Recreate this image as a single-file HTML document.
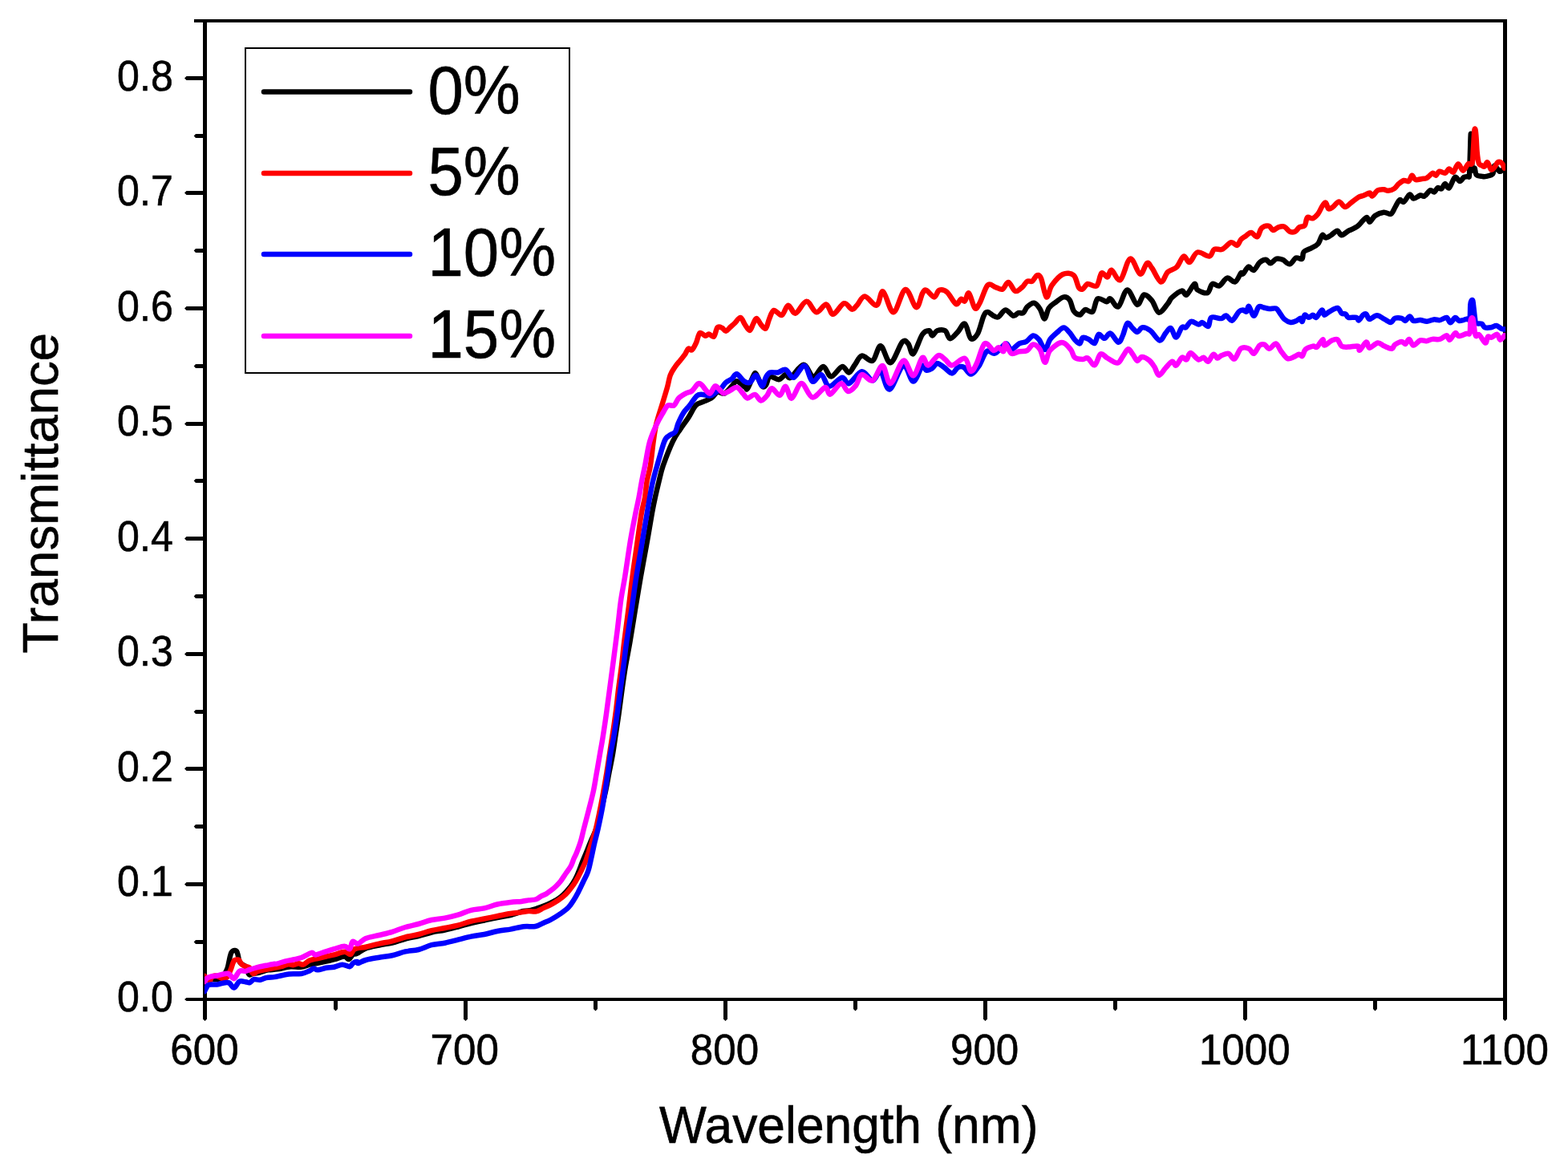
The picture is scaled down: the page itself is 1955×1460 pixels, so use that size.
<!DOCTYPE html>
<html><head><meta charset="utf-8"><title>Transmittance</title>
<style>html,body{margin:0;padding:0;background:#fff;width:1955px;height:1460px;overflow:hidden}svg{display:block}</style>
</head><body>
<svg width="1955" height="1460" viewBox="0 0 1955 1460">
<defs><clipPath id="c"><rect x="255" y="26" width="1622" height="1220"/></clipPath></defs>
<rect width="1955" height="1460" fill="#fff"/>
<rect x="242" y="24" width="1637" height="4" fill="#000"/>
<rect x="253" y="1244" width="1626" height="4" fill="#000"/>
<rect x="253" y="24" width="5" height="1224" fill="#000"/>
<rect x="1874" y="24" width="5" height="1224" fill="#000"/>
<polygon points="253,1244 232.5,1244 230,1246.0 232.5,1248 253,1248" fill="#000"/>
<polygon points="253,1100 232.5,1100 230,1102.5 232.5,1105 253,1105" fill="#000"/>
<polygon points="253,956 232.5,956 230,958.5 232.5,961 253,961" fill="#000"/>
<polygon points="253,813 232.5,813 230,815.5 232.5,818 253,818" fill="#000"/>
<polygon points="253,669 232.5,669 230,671.5 232.5,674 253,674" fill="#000"/>
<polygon points="253,526 232.5,526 230,528.5 232.5,531 253,531" fill="#000"/>
<polygon points="253,382 232.5,382 230,384.5 232.5,387 253,387" fill="#000"/>
<polygon points="253,238 232.5,238 230,240.5 232.5,243 253,243" fill="#000"/>
<polygon points="253,95 232.5,95 230,97.5 232.5,100 253,100" fill="#000"/>
<polygon points="253,1172 244,1172 241.7,1174.5 244,1177 253,1177" fill="#000"/>
<polygon points="253,1028 244,1028 241.7,1030.5 244,1033 253,1033" fill="#000"/>
<polygon points="253,885 244,885 241.7,887.5 244,890 253,890" fill="#000"/>
<polygon points="253,741 244,741 241.7,743.5 244,746 253,746" fill="#000"/>
<polygon points="253,597 244,597 241.7,599.5 244,602 253,602" fill="#000"/>
<polygon points="253,454 244,454 241.7,456.5 244,459 253,459" fill="#000"/>
<polygon points="253,310 244,310 241.7,312.5 244,315 253,315" fill="#000"/>
<polygon points="253,167 244,167 241.7,169.5 244,172 253,172" fill="#000"/>
<polygon points="253,1248 253,1270.5 255.5,1273 258,1270.5 258,1248" fill="#000"/>
<polygon points="578,1248 578,1270.5 580.5,1273 583,1270.5 583,1248" fill="#000"/>
<polygon points="902,1248 902,1270.5 904.5,1273 907,1270.5 907,1248" fill="#000"/>
<polygon points="1226,1248 1226,1270.5 1228.5,1273 1231,1270.5 1231,1248" fill="#000"/>
<polygon points="1550,1248 1550,1270.5 1552.5,1273 1555,1270.5 1555,1248" fill="#000"/>
<polygon points="1874,1248 1874,1270.5 1876.5,1273 1879,1270.5 1879,1248" fill="#000"/>
<polygon points="416,1248 416,1258 418.5,1260.5 421,1258 421,1248" fill="#000"/>
<polygon points="740,1248 740,1258 742.5,1260.5 745,1258 745,1248" fill="#000"/>
<polygon points="1064,1248 1064,1258 1066.5,1260.5 1069,1258 1069,1248" fill="#000"/>
<polygon points="1388,1248 1388,1258 1390.5,1260.5 1393,1258 1393,1248" fill="#000"/>
<polygon points="1712,1248 1712,1258 1714.5,1260.5 1717,1258 1717,1248" fill="#000"/>
<rect x="306" y="60" width="404" height="405" fill="none" stroke="#000" stroke-width="2"/>
<line x1="329" y1="114.5" x2="511" y2="114.5" stroke="#000" stroke-width="6.5" stroke-linecap="round"/>
<line x1="329" y1="216" x2="511" y2="216" stroke="#f00" stroke-width="6.5" stroke-linecap="round"/>
<line x1="329" y1="317" x2="511" y2="317" stroke="#00f" stroke-width="6.5" stroke-linecap="round"/>
<line x1="329" y1="419" x2="511" y2="419" stroke="#f0f" stroke-width="6.5" stroke-linecap="round"/>
<g clip-path="url(#c)">
<path d="M255.0,1219.0 C255.8,1219.1 258.3,1219.2 260.0,1219.5 C261.7,1219.8 263.3,1220.2 265.0,1220.5 C266.7,1220.8 268.3,1221.1 270.0,1221.0 C271.7,1220.9 273.5,1220.8 275.0,1220.0 C276.5,1219.2 277.8,1217.5 279.0,1216.0 C280.2,1214.5 281.2,1212.7 282.0,1211.0 C282.8,1209.3 283.4,1208.0 284.0,1206.0 C284.6,1204.0 285.0,1201.3 285.5,1199.0 C286.0,1196.7 286.5,1193.9 287.0,1192.0 C287.5,1190.1 287.9,1188.6 288.5,1187.5 C289.1,1186.4 289.8,1185.9 290.5,1185.5 C291.2,1185.1 292.2,1184.9 293.0,1185.0 C293.8,1185.1 294.4,1185.2 295.0,1186.0 C295.6,1186.8 296.1,1188.5 296.5,1190.0 C296.9,1191.5 297.1,1193.4 297.5,1195.0 C297.9,1196.6 298.2,1198.2 299.0,1199.5 C299.8,1200.8 300.8,1201.6 302.0,1202.5 C303.2,1203.4 304.8,1203.4 306.0,1205.0 C307.2,1206.6 308.2,1210.2 309.0,1212.0 C309.8,1213.8 310.0,1215.2 311.0,1215.5 C312.0,1215.8 312.9,1214.5 315.0,1214.0 C317.1,1213.5 320.5,1213.3 323.7,1212.5 C326.9,1211.7 330.7,1210.1 334.4,1209.4 C338.1,1208.7 341.0,1209.1 345.7,1208.4 C350.4,1207.7 357.6,1205.6 362.4,1205.2 C367.2,1204.8 370.8,1206.2 374.7,1205.8 C378.6,1205.4 382.8,1203.5 385.9,1202.7 C389.0,1201.9 390.2,1201.9 393.6,1201.2 C397.0,1200.5 402.1,1199.5 406.4,1198.6 C410.7,1197.6 415.4,1196.5 419.2,1195.5 C423.0,1194.5 426.8,1192.4 429.4,1192.5 C432.0,1192.6 433.2,1196.4 435.0,1196.0 C436.8,1195.6 438.3,1191.2 440.0,1190.0 C441.7,1188.8 442.3,1190.2 445.0,1188.9 C447.7,1187.7 451.4,1184.2 456.0,1182.5 C460.6,1180.8 467.2,1179.7 472.7,1178.5 C478.2,1177.3 483.5,1176.8 489.0,1175.5 C494.5,1174.2 500.0,1171.9 505.5,1170.5 C511.0,1169.1 516.4,1168.3 521.8,1167.0 C527.2,1165.7 532.5,1163.8 538.0,1162.5 C543.5,1161.2 549.1,1160.7 554.6,1159.5 C560.1,1158.3 565.5,1156.9 571.0,1155.5 C576.5,1154.1 581.8,1152.3 587.3,1151.0 C592.8,1149.7 598.2,1148.7 603.7,1147.5 C609.2,1146.3 614.5,1145.1 620.0,1144.0 C625.5,1142.9 630.9,1142.3 636.4,1141.0 C641.9,1139.7 648.5,1137.0 652.8,1136.0 C657.1,1135.0 658.4,1135.8 662.0,1135.0 C665.6,1134.2 670.5,1132.5 674.7,1130.9 C678.9,1129.4 682.9,1127.8 687.0,1125.7 C691.1,1123.6 695.2,1121.8 699.3,1118.3 C703.4,1114.8 708.6,1108.9 711.7,1105.0 C714.8,1101.1 716.2,1098.0 717.8,1095.0 C719.4,1092.0 720.1,1090.1 721.5,1086.8 C722.9,1083.5 724.4,1079.0 726.0,1075.0 C727.6,1071.0 729.2,1067.5 731.0,1063.0 C732.8,1058.5 734.9,1053.0 737.0,1048.0 C739.1,1043.0 741.4,1039.3 743.5,1033.0 C745.6,1026.7 747.6,1017.7 749.5,1010.0 C751.4,1002.3 753.3,994.4 755.0,986.6 C756.7,978.8 758.0,970.8 759.5,963.0 C761.0,955.2 762.8,947.2 764.0,940.0 C765.2,932.8 765.8,928.3 767.0,920.0 C768.2,911.7 770.1,900.0 771.5,890.0 C772.9,880.0 774.1,870.0 775.5,860.0 C776.9,850.0 778.3,840.0 780.0,830.0 C781.7,820.0 783.5,811.7 785.5,800.0 C787.5,788.3 789.8,773.3 792.0,760.0 C794.2,746.7 796.4,733.3 798.7,720.0 C801.0,706.7 803.6,693.3 806.0,680.0 C808.4,666.7 811.1,650.0 812.9,640.0 C814.7,630.0 815.4,626.7 816.9,620.0 C818.4,613.3 820.0,606.5 821.6,600.0 C823.2,593.5 823.9,589.0 826.7,580.8 C829.6,572.6 835.2,558.2 838.7,550.7 C842.2,543.2 844.5,540.6 847.8,535.6 C851.1,530.6 855.0,525.6 858.3,520.6 C861.6,515.6 864.4,508.8 867.4,505.5 C870.4,502.2 873.1,502.5 876.4,501.0 C879.6,499.5 883.9,498.4 886.9,496.4 C889.9,494.4 891.7,489.9 894.5,488.9 C897.3,487.9 900.5,491.6 903.5,490.4 C906.5,489.1 910.0,483.9 912.5,481.4 C915.0,478.9 915.8,475.1 918.6,475.3 C921.4,475.6 926.9,481.4 929.1,482.9 C931.4,484.4 930.3,486.9 932.1,484.4 C933.9,481.9 937.9,470.8 939.7,467.8 C941.5,464.8 941.0,464.0 942.7,466.3 C944.5,468.6 948.2,479.1 950.2,481.4 C952.2,483.7 953.4,482.0 955.0,480.0 C956.6,478.0 957.2,470.6 959.9,469.5 C962.6,468.4 967.7,473.6 971.0,473.2 C974.3,472.8 977.1,467.4 979.6,467.0 C982.1,466.6 982.1,472.8 985.8,470.7 C989.5,468.6 997.1,454.9 1001.8,454.7 C1006.5,454.5 1010.0,469.1 1014.1,469.5 C1018.2,469.9 1022.7,457.1 1026.4,457.1 C1030.1,457.1 1032.4,469.5 1036.3,469.5 C1040.2,469.5 1046.2,457.9 1049.9,457.1 C1053.6,456.3 1055.8,464.9 1058.5,464.5 C1061.2,464.1 1063.2,458.2 1065.9,454.7 C1068.6,451.2 1070.8,444.4 1074.5,443.6 C1078.2,442.8 1084.2,451.8 1088.1,449.7 C1092.0,447.6 1094.3,430.8 1098.0,431.2 C1101.7,431.6 1105.8,453.0 1110.3,452.2 C1114.8,451.4 1121.4,430.2 1125.1,426.3 C1128.8,422.4 1130.2,426.3 1132.5,428.8 C1134.8,431.3 1135.8,443.1 1138.7,441.1 C1141.6,439.1 1146.7,421.8 1150.0,417.0 C1153.3,412.2 1156.5,412.1 1158.6,412.3 C1160.6,412.6 1160.6,418.5 1162.3,418.5 C1164.0,418.5 1165.8,413.3 1168.5,412.3 C1171.2,411.3 1175.7,410.7 1178.4,412.3 C1181.1,413.9 1181.8,422.0 1184.5,422.2 C1187.2,422.4 1191.3,416.7 1194.4,413.6 C1197.5,410.5 1200.3,402.3 1203.0,403.7 C1205.7,405.1 1207.7,420.1 1210.4,422.2 C1213.1,424.2 1216.3,420.7 1219.0,416.0 C1221.7,411.3 1224.4,398.3 1226.5,393.8 C1228.6,389.3 1229.4,388.9 1231.4,388.9 C1233.5,388.9 1236.5,392.8 1238.8,393.8 C1241.0,394.8 1242.4,396.3 1244.9,395.1 C1247.4,393.9 1250.5,386.6 1253.6,386.4 C1256.7,386.2 1260.7,393.2 1263.4,393.8 C1266.1,394.4 1267.5,390.7 1269.6,390.1 C1271.7,389.5 1273.9,391.3 1275.8,390.1 C1277.7,388.9 1278.5,384.8 1280.7,382.7 C1283.0,380.6 1286.6,377.4 1289.3,377.8 C1292.0,378.2 1294.5,381.9 1296.7,385.2 C1298.9,388.5 1300.5,397.7 1302.3,397.5 C1304.1,397.3 1305.4,387.5 1307.8,384.0 C1310.2,380.5 1313.4,378.9 1316.5,376.6 C1319.6,374.3 1323.4,370.8 1326.3,370.4 C1329.2,370.0 1331.6,371.2 1333.7,374.1 C1335.8,377.0 1336.6,384.6 1338.7,387.7 C1340.8,390.8 1344.2,392.4 1346.1,392.6 C1348.0,392.8 1348.7,390.0 1350.0,388.9 C1351.3,387.8 1351.7,386.1 1353.7,386.0 C1355.8,385.9 1359.8,390.8 1362.3,388.5 C1364.8,386.2 1365.6,374.6 1368.5,372.5 C1371.4,370.4 1376.9,376.2 1379.6,376.2 C1382.3,376.2 1382.0,371.5 1384.5,372.5 C1387.0,373.5 1390.9,384.2 1394.4,382.3 C1397.9,380.4 1401.6,361.8 1405.5,361.4 C1409.4,361.0 1414.3,378.9 1417.8,379.9 C1421.3,380.9 1423.3,368.3 1426.4,367.5 C1429.5,366.7 1433.2,371.2 1436.3,374.9 C1439.4,378.6 1441.6,389.1 1444.9,389.7 C1448.2,390.3 1453.3,381.7 1456.0,378.6 C1458.7,375.5 1458.1,373.9 1461.0,371.2 C1463.9,368.5 1470.2,363.2 1473.3,362.6 C1476.4,362.0 1476.8,368.9 1479.5,367.5 C1482.2,366.1 1487.0,355.0 1489.3,354.0 C1491.5,353.0 1490.3,359.5 1493.0,361.4 C1495.7,363.2 1502.3,366.3 1505.4,365.1 C1508.5,363.9 1509.0,355.4 1511.5,354.0 C1514.0,352.6 1517.1,357.6 1520.2,356.4 C1523.3,355.2 1526.7,347.4 1530.0,346.6 C1533.3,345.8 1537.0,352.5 1539.9,351.5 C1542.8,350.5 1545.6,342.1 1547.3,340.4 C1549.0,338.7 1548.5,342.7 1550.0,341.4 C1551.5,340.1 1554.4,333.3 1556.6,332.6 C1558.8,331.9 1560.8,337.9 1563.2,337.0 C1565.6,336.1 1568.2,329.3 1570.8,327.1 C1573.3,324.9 1576.3,323.6 1578.5,323.8 C1580.7,324.0 1581.8,328.4 1584.0,328.2 C1586.2,328.0 1589.0,323.4 1591.6,322.7 C1594.1,322.0 1596.5,322.7 1599.3,323.8 C1602.0,324.9 1605.3,329.7 1608.1,329.3 C1610.8,328.9 1613.2,322.7 1615.8,321.6 C1618.3,320.5 1621.8,324.0 1623.4,322.7 C1625.0,321.4 1623.8,316.2 1625.6,314.0 C1627.4,311.8 1631.5,311.2 1634.4,309.6 C1637.3,308.0 1640.8,306.8 1643.2,304.1 C1645.6,301.4 1647.0,294.5 1648.6,293.2 C1650.2,291.9 1651.2,296.4 1653.0,296.4 C1654.8,296.4 1657.2,294.6 1659.6,293.2 C1662.0,291.8 1665.1,287.7 1667.3,287.7 C1669.5,287.7 1670.3,293.2 1672.7,293.2 C1675.1,293.2 1678.2,289.5 1681.5,287.7 C1684.8,285.9 1688.8,284.9 1692.5,282.2 C1696.2,279.4 1700.9,272.1 1703.4,271.2 C1706.0,270.3 1706.0,277.1 1707.8,276.7 C1709.6,276.3 1711.5,271.0 1714.4,269.0 C1717.3,267.0 1722.0,265.1 1725.3,264.7 C1728.6,264.3 1731.7,267.9 1734.1,266.8 C1736.5,265.7 1737.8,261.0 1739.6,258.1 C1741.4,255.2 1743.3,250.4 1745.1,249.3 C1746.9,248.2 1748.2,252.8 1750.3,251.7 C1752.4,250.6 1755.5,243.2 1757.5,242.5 C1759.5,241.8 1760.4,247.4 1762.6,247.6 C1764.8,247.8 1768.6,244.0 1770.8,243.5 C1773.0,243.0 1773.9,245.5 1776.0,244.5 C1778.1,243.5 1781.2,238.2 1783.2,237.3 C1785.2,236.5 1786.8,239.9 1788.3,239.4 C1789.8,238.9 1790.9,234.9 1792.4,234.2 C1793.9,233.5 1796.0,236.2 1797.5,235.3 C1799.0,234.5 1800.0,229.3 1801.6,229.1 C1803.1,228.9 1804.7,235.6 1806.8,234.2 C1808.9,232.8 1811.8,222.3 1814.0,220.9 C1816.2,219.5 1818.2,226.0 1820.1,226.0 C1822.0,226.0 1823.6,221.9 1825.3,220.9 C1827.0,219.9 1829.3,220.4 1830.4,219.9 C1831.5,219.4 1831.6,223.0 1832.0,218.0 C1832.4,213.0 1832.7,198.5 1833.0,190.0 C1833.3,181.5 1833.5,168.7 1833.8,167.0 C1834.1,165.3 1834.7,172.7 1835.0,180.0 C1835.3,187.3 1835.0,205.7 1835.6,210.6 C1836.2,215.5 1837.8,208.4 1838.6,209.6 C1839.4,210.8 1839.2,216.1 1840.7,217.8 C1842.2,219.5 1845.9,219.6 1847.9,219.9 C1850.0,220.2 1850.8,220.4 1853.0,219.9 C1855.2,219.4 1859.5,219.0 1861.2,216.8 C1862.9,214.6 1861.9,207.0 1863.3,206.5 C1864.7,206.0 1867.8,212.8 1869.5,213.7 C1871.2,214.5 1872.5,211.9 1873.6,211.6 C1874.7,211.3 1875.6,211.9 1876.0,212.0" fill="none" stroke="#000" stroke-width="6.5" stroke-linejoin="round" stroke-linecap="round"/>
<path d="M255.0,1217.0 C255.5,1217.4 256.9,1218.5 258.0,1219.5 C259.1,1220.5 260.5,1223.2 261.5,1223.0 C262.5,1222.8 262.9,1219.1 264.0,1218.0 C265.1,1216.9 266.7,1216.6 268.0,1216.5 C269.3,1216.4 270.7,1217.0 272.0,1217.5 C273.3,1218.0 274.7,1219.0 276.0,1219.5 C277.3,1220.0 278.8,1220.7 280.0,1220.5 C281.2,1220.3 282.1,1219.6 283.0,1218.5 C283.9,1217.4 284.7,1215.8 285.5,1214.0 C286.3,1212.2 287.2,1210.0 288.0,1208.0 C288.8,1206.0 289.3,1203.8 290.0,1202.0 C290.7,1200.2 291.2,1198.4 292.0,1197.5 C292.8,1196.6 294.0,1196.6 295.0,1196.5 C296.0,1196.4 297.2,1196.3 298.0,1197.0 C298.8,1197.7 299.2,1199.4 300.0,1200.5 C300.8,1201.6 301.8,1202.8 303.0,1203.5 C304.2,1204.2 305.7,1204.5 307.0,1205.0 C308.3,1205.5 309.9,1205.5 311.0,1206.5 C312.1,1207.5 312.7,1209.8 313.5,1211.0 C314.3,1212.2 314.6,1214.0 316.0,1214.0 C317.4,1214.0 319.0,1211.8 321.6,1210.9 C324.2,1210.1 328.4,1209.6 331.8,1208.9 C335.2,1208.2 339.1,1207.4 342.1,1206.8 C345.2,1206.2 347.2,1206.0 350.1,1205.2 C353.0,1204.4 356.7,1202.5 359.3,1202.2 C361.9,1201.9 363.4,1203.4 365.5,1203.2 C367.6,1203.0 370.0,1201.3 372.1,1201.2 C374.2,1201.1 375.9,1203.3 378.2,1202.7 C380.5,1202.1 382.9,1198.9 385.9,1197.6 C388.9,1196.3 392.8,1195.8 396.2,1195.0 C399.6,1194.2 403.0,1193.3 406.4,1192.5 C409.8,1191.7 412.8,1191.4 416.6,1190.4 C420.4,1189.5 426.0,1186.9 429.4,1186.8 C432.8,1186.7 435.0,1190.5 437.1,1189.9 C439.2,1189.3 439.1,1184.7 442.2,1183.2 C445.3,1181.7 450.9,1181.8 456.0,1180.7 C461.1,1179.6 467.2,1177.8 472.7,1176.6 C478.2,1175.4 483.5,1174.7 489.0,1173.3 C494.5,1171.9 500.0,1169.8 505.5,1168.4 C511.0,1167.0 516.4,1166.4 521.8,1165.0 C527.2,1163.6 532.5,1161.5 538.0,1160.2 C543.5,1158.9 549.1,1158.1 554.6,1157.0 C560.1,1155.9 565.5,1155.0 571.0,1153.6 C576.5,1152.2 581.8,1150.0 587.3,1148.7 C592.8,1147.4 598.2,1146.6 603.7,1145.5 C609.2,1144.4 614.5,1143.3 620.0,1142.2 C625.5,1141.1 631.4,1139.8 636.4,1139.0 C641.4,1138.2 646.2,1137.9 650.0,1137.4 C653.8,1136.9 656.1,1136.3 659.2,1136.1 C662.3,1135.9 665.4,1137.1 668.5,1136.4 C671.6,1135.7 674.6,1133.5 677.7,1132.1 C680.8,1130.7 683.9,1129.4 687.0,1127.8 C690.1,1126.2 693.1,1124.4 696.2,1122.3 C699.3,1120.2 702.9,1117.4 705.5,1114.9 C708.1,1112.4 709.7,1110.2 711.7,1107.5 C713.8,1104.8 715.8,1102.2 717.8,1098.8 C719.8,1095.4 722.0,1091.2 724.0,1087.1 C726.0,1082.9 728.5,1077.9 730.1,1073.9 C731.7,1069.9 732.4,1067.3 733.8,1063.0 C735.2,1058.7 737.0,1053.0 738.5,1048.0 C740.0,1043.0 741.4,1039.3 743.0,1033.0 C744.6,1026.7 746.4,1017.7 748.0,1010.0 C749.6,1002.3 751.0,994.4 752.4,986.6 C753.8,978.8 755.2,970.8 756.5,963.0 C757.8,955.2 758.9,947.2 760.0,940.0 C761.1,932.8 761.9,928.3 763.1,920.0 C764.4,911.7 766.2,900.0 767.5,890.0 C768.8,880.0 769.8,870.0 771.0,860.0 C772.2,850.0 773.8,840.0 775.0,830.0 C776.2,820.0 776.9,811.7 778.3,800.0 C779.7,788.3 781.8,773.3 783.5,760.0 C785.2,746.7 786.6,733.3 788.4,720.0 C790.1,706.7 792.1,693.3 794.0,680.0 C795.9,666.7 798.1,650.0 799.8,640.0 C801.5,630.0 803.0,626.7 804.1,620.0 C805.2,613.3 805.5,606.5 806.6,600.0 C807.7,593.5 809.6,589.0 810.9,580.8 C812.2,572.6 813.4,559.5 814.6,550.7 C815.9,541.9 816.6,535.6 818.4,528.1 C820.2,520.6 822.9,513.0 825.2,505.5 C827.5,498.0 830.2,489.2 832.0,482.9 C833.8,476.6 834.1,472.1 835.7,467.8 C837.3,463.5 839.8,460.3 841.8,457.3 C843.8,454.3 845.8,452.2 847.8,449.7 C849.8,447.2 852.0,444.7 853.8,442.2 C855.5,439.7 856.8,435.7 858.3,434.7 C859.8,433.7 861.2,437.5 862.8,436.2 C864.4,434.9 866.5,430.6 868.1,427.1 C869.7,423.6 870.7,416.5 872.6,415.1 C874.5,413.7 877.5,418.6 879.4,418.8 C881.3,419.1 882.1,416.5 883.9,416.6 C885.7,416.7 888.2,421.0 890.0,419.6 C891.8,418.2 892.8,410.1 894.5,408.3 C896.2,406.5 898.8,408.2 900.5,409.0 C902.2,409.8 903.2,413.1 905.0,412.8 C906.8,412.6 909.2,409.1 911.0,407.5 C912.8,405.9 914.0,404.9 916.0,403.0 C918.0,401.1 921.0,395.7 923.2,396.0 C925.4,396.3 927.1,402.3 929.0,405.0 C930.9,407.7 933.0,412.2 934.7,412.0 C936.4,411.8 937.6,406.5 939.0,404.0 C940.4,401.5 941.6,396.8 943.3,397.0 C945.0,397.2 947.1,402.9 949.0,405.0 C950.9,407.1 953.1,410.7 954.8,409.5 C956.5,408.3 957.3,401.8 959.0,398.0 C960.7,394.2 962.2,387.7 964.8,386.9 C967.4,386.1 971.7,394.0 974.7,393.0 C977.7,392.0 979.8,381.1 982.7,380.7 C985.6,380.3 988.1,391.4 991.9,390.6 C995.7,389.8 1001.2,376.0 1005.5,375.8 C1009.8,375.6 1013.7,388.7 1017.8,389.3 C1021.9,389.9 1026.6,379.1 1030.1,379.5 C1033.6,379.9 1035.1,392.0 1038.8,391.8 C1042.5,391.6 1048.4,379.2 1052.3,378.2 C1056.2,377.2 1059.5,385.2 1062.2,385.6 C1064.9,386.0 1065.7,383.4 1068.4,380.7 C1071.1,378.0 1074.1,369.6 1078.2,369.6 C1082.3,369.6 1089.2,381.7 1093.0,380.7 C1096.8,379.7 1097.5,362.0 1101.0,363.4 C1104.5,364.8 1109.4,389.7 1114.0,389.3 C1118.6,388.9 1124.1,362.0 1128.8,361.0 C1133.5,360.0 1138.9,382.4 1142.4,383.2 C1145.9,384.0 1147.9,369.6 1150.0,366.0 C1152.1,362.4 1152.4,361.1 1154.9,361.8 C1157.4,362.5 1162.1,370.4 1164.8,370.4 C1167.5,370.4 1168.3,362.8 1171.0,361.8 C1173.7,360.8 1177.3,361.4 1180.8,364.3 C1184.3,367.2 1189.0,377.6 1191.9,379.0 C1194.8,380.4 1196.2,373.5 1198.1,372.9 C1199.9,372.3 1201.3,376.6 1203.0,375.4 C1204.7,374.2 1205.9,364.1 1208.0,365.5 C1210.1,366.9 1213.2,381.9 1215.4,384.0 C1217.7,386.1 1218.8,382.5 1221.5,377.8 C1224.2,373.1 1228.1,358.9 1231.4,355.6 C1234.7,352.3 1238.1,357.3 1241.2,358.1 C1244.3,358.9 1247.2,361.6 1249.9,360.6 C1252.6,359.6 1254.6,351.5 1257.3,351.9 C1260.0,352.3 1263.0,362.0 1265.9,363.0 C1268.8,364.0 1272.0,360.2 1274.5,358.1 C1277.0,356.1 1278.6,351.9 1280.7,350.7 C1282.8,349.5 1284.9,351.9 1286.9,350.7 C1289.0,349.5 1291.2,343.9 1293.0,343.3 C1294.8,342.7 1296.0,342.5 1298.0,347.0 C1300.0,351.5 1302.5,369.0 1304.7,370.4 C1307.0,371.8 1308.1,360.3 1311.5,355.6 C1314.9,350.9 1320.6,344.1 1325.1,342.0 C1329.6,339.9 1335.4,340.6 1338.7,343.3 C1342.0,346.0 1342.9,355.2 1344.8,358.1 C1346.7,361.0 1348.1,361.1 1350.0,360.4 C1351.9,359.7 1353.3,354.7 1356.2,354.0 C1359.1,353.3 1364.4,358.7 1367.3,356.4 C1370.2,354.1 1371.2,342.2 1373.4,340.4 C1375.7,338.6 1378.7,346.0 1380.8,345.4 C1382.9,344.8 1383.1,336.1 1385.8,336.7 C1388.5,337.3 1393.0,351.4 1396.9,349.0 C1400.8,346.6 1405.1,323.7 1409.2,322.5 C1413.3,321.3 1418.0,340.8 1421.5,341.7 C1425.0,342.6 1427.6,329.3 1430.1,328.1 C1432.6,326.9 1433.4,330.4 1436.3,334.3 C1439.2,338.2 1444.1,350.7 1447.4,351.5 C1450.7,352.3 1452.7,342.3 1456.0,339.2 C1459.3,336.1 1463.8,336.3 1467.1,333.0 C1470.4,329.7 1473.1,320.5 1475.8,319.5 C1478.5,318.5 1480.3,327.7 1483.2,326.9 C1486.1,326.1 1488.9,315.7 1493.0,314.5 C1497.1,313.3 1504.3,320.1 1507.8,319.5 C1511.3,318.9 1511.3,312.2 1514.0,310.8 C1516.7,309.4 1520.4,312.2 1523.9,310.8 C1527.4,309.4 1531.9,303.0 1535.0,302.2 C1538.1,301.4 1540.4,306.5 1542.4,305.9 C1544.5,305.3 1545.5,300.4 1547.3,298.5 C1549.1,296.6 1551.2,295.6 1553.3,294.2 C1555.4,292.8 1557.5,289.7 1559.9,289.9 C1562.3,290.1 1565.3,296.2 1567.5,295.3 C1569.7,294.4 1570.6,286.7 1573.0,284.4 C1575.4,282.1 1579.4,281.2 1581.8,281.6 C1584.2,282.1 1585.3,286.8 1587.3,287.1 C1589.3,287.4 1591.4,284.0 1593.8,283.3 C1596.2,282.6 1599.1,281.8 1601.5,282.7 C1603.9,283.6 1605.9,287.8 1608.1,288.8 C1610.3,289.8 1612.7,289.7 1614.7,288.8 C1616.7,287.9 1618.1,284.6 1620.1,283.3 C1622.1,282.0 1625.0,283.1 1626.7,281.1 C1628.4,279.1 1628.3,272.7 1630.0,271.2 C1631.7,269.7 1634.4,273.0 1636.6,272.3 C1638.8,271.6 1641.2,269.4 1643.2,266.8 C1645.2,264.2 1647.0,259.4 1648.6,257.0 C1650.2,254.6 1651.7,252.0 1653.0,252.6 C1654.3,253.2 1654.8,259.4 1656.3,260.3 C1657.8,261.2 1659.6,259.6 1661.8,258.1 C1664.0,256.6 1667.0,251.5 1669.5,251.5 C1672.0,251.5 1674.5,257.9 1677.1,258.1 C1679.6,258.3 1682.0,254.6 1684.8,252.6 C1687.5,250.6 1691.0,247.5 1693.6,246.0 C1696.1,244.5 1697.7,244.7 1700.1,243.8 C1702.5,242.9 1706.0,240.4 1707.8,240.5 C1709.6,240.6 1709.4,244.9 1711.1,244.4 C1712.8,243.9 1715.3,238.7 1717.7,237.3 C1720.1,235.9 1723.1,236.1 1725.3,236.2 C1727.5,236.3 1728.6,238.0 1730.8,237.8 C1733.0,237.6 1736.3,236.6 1738.5,235.1 C1740.7,233.6 1742.1,230.8 1744.1,229.1 C1746.1,227.4 1748.2,225.5 1750.3,225.0 C1752.3,224.5 1754.7,227.0 1756.4,226.0 C1758.1,225.0 1759.1,219.1 1760.5,218.8 C1761.9,218.5 1762.6,223.3 1764.7,224.0 C1766.8,224.7 1770.5,223.3 1772.9,223.0 C1775.3,222.7 1776.8,223.1 1779.0,221.9 C1781.2,220.7 1784.3,216.3 1786.2,215.8 C1788.1,215.3 1788.9,219.2 1790.3,218.8 C1791.7,218.5 1792.6,214.2 1794.5,213.7 C1796.4,213.2 1799.5,216.3 1801.6,215.8 C1803.6,215.3 1805.1,210.8 1806.8,210.6 C1808.5,210.4 1810.0,215.7 1811.9,214.7 C1813.8,213.7 1816.0,204.8 1818.1,204.5 C1820.1,204.2 1822.2,212.7 1824.2,212.7 C1826.2,212.7 1828.5,206.1 1830.4,204.5 C1832.3,202.9 1834.4,206.7 1835.5,203.4 C1836.6,200.2 1836.5,191.7 1837.0,185.0 C1837.5,178.3 1837.9,166.8 1838.3,163.0 C1838.7,159.2 1839.2,160.5 1839.6,162.0 C1840.0,163.5 1840.2,167.3 1840.6,172.0 C1840.9,176.7 1841.2,184.8 1841.7,190.0 C1842.2,195.2 1842.8,200.7 1843.8,203.4 C1844.8,206.2 1846.7,205.8 1847.9,206.5 C1849.1,207.2 1849.9,208.2 1851.0,207.5 C1852.1,206.8 1853.2,201.7 1854.6,202.4 C1856.0,203.1 1857.8,210.6 1859.2,211.6 C1860.7,212.6 1861.9,210.1 1863.3,208.6 C1864.7,207.1 1865.9,203.3 1867.4,202.4 C1868.9,201.5 1871.1,202.2 1872.5,203.4 C1873.9,204.6 1875.1,208.6 1875.6,209.6" fill="none" stroke="#f00" stroke-width="6.5" stroke-linejoin="round" stroke-linecap="round"/>
<path d="M255.0,1236.0 C255.4,1235.2 256.8,1232.4 257.7,1231.0 C258.6,1229.6 258.1,1228.4 260.2,1227.8 C262.3,1227.2 267.1,1227.9 270.5,1227.5 C273.9,1227.1 278.1,1225.5 280.7,1225.2 C283.2,1224.9 283.9,1224.5 285.8,1225.5 C287.7,1226.5 289.8,1231.8 291.9,1231.5 C294.0,1231.2 296.2,1224.9 298.6,1223.7 C301.0,1222.5 304.2,1224.0 306.3,1224.2 C308.4,1224.5 309.7,1225.7 311.4,1225.2 C313.1,1224.7 314.4,1221.8 316.5,1221.2 C318.6,1220.6 321.6,1222.1 324.2,1221.7 C326.8,1221.3 328.8,1219.7 331.8,1219.1 C334.8,1218.5 339.1,1218.5 342.1,1218.1 C345.1,1217.7 347.0,1217.1 350.0,1216.5 C353.0,1215.9 356.0,1214.9 360.3,1214.5 C364.6,1214.1 371.4,1214.7 375.7,1214.0 C380.0,1213.3 383.3,1211.5 385.9,1210.4 C388.4,1209.3 389.3,1207.7 391.0,1207.5 C392.7,1207.3 393.6,1209.4 396.2,1209.3 C398.8,1209.2 403.0,1207.4 406.4,1206.8 C409.8,1206.2 413.2,1206.5 416.6,1205.8 C420.0,1205.1 423.6,1202.8 426.8,1202.7 C430.0,1202.6 433.8,1205.5 436.0,1205.2 C438.2,1204.9 438.5,1202.0 440.0,1201.0 C441.5,1200.0 443.9,1199.1 445.0,1199.1 C446.1,1199.1 444.7,1201.3 446.5,1201.0 C448.3,1200.7 451.6,1198.2 456.0,1197.0 C460.4,1195.8 467.2,1194.7 472.7,1193.7 C478.2,1192.8 483.5,1192.5 489.0,1191.3 C494.5,1190.1 500.0,1187.6 505.5,1186.4 C511.0,1185.2 516.4,1185.4 521.8,1184.0 C527.2,1182.6 532.5,1179.6 538.0,1178.2 C543.5,1176.8 549.1,1176.8 554.6,1175.7 C560.1,1174.6 565.5,1173.1 571.0,1171.7 C576.5,1170.3 581.8,1168.7 587.3,1167.6 C592.8,1166.5 598.2,1166.1 603.7,1165.0 C609.2,1163.9 614.5,1162.1 620.0,1161.0 C625.5,1159.9 630.9,1159.5 636.4,1158.6 C641.9,1157.6 647.6,1155.9 652.8,1155.3 C658.0,1154.7 663.5,1155.7 667.5,1155.0 C671.5,1154.3 673.8,1152.4 677.0,1151.0 C680.2,1149.6 683.3,1148.5 687.0,1146.5 C690.7,1144.5 695.7,1141.4 699.3,1138.9 C702.9,1136.4 706.0,1134.1 708.6,1131.5 C711.2,1128.9 712.7,1126.4 714.7,1123.2 C716.8,1120.0 718.8,1116.4 720.9,1112.4 C723.0,1108.5 725.0,1103.9 727.1,1099.5 C729.2,1095.1 731.5,1091.5 733.2,1086.2 C735.0,1081.0 736.2,1074.0 737.6,1068.0 C739.0,1062.0 740.1,1055.8 741.5,1050.0 C742.9,1044.2 744.2,1039.7 745.7,1033.0 C747.2,1026.3 749.0,1017.7 750.5,1010.0 C752.0,1002.3 753.1,994.4 754.4,986.6 C755.6,978.8 756.9,970.8 758.0,963.0 C759.1,955.2 759.9,947.2 761.1,940.0 C762.3,932.8 763.6,928.3 765.0,920.0 C766.4,911.7 768.1,900.0 769.5,890.0 C770.9,880.0 772.2,870.0 773.5,860.0 C774.8,850.0 776.2,840.0 777.5,830.0 C778.8,820.0 779.6,811.7 781.3,800.0 C783.0,788.3 785.5,773.3 787.5,760.0 C789.5,746.7 791.1,733.3 793.2,720.0 C795.3,706.7 797.8,693.3 800.0,680.0 C802.2,666.7 805.0,650.0 806.7,640.0 C808.4,630.0 808.9,626.7 810.1,620.0 C811.3,613.3 812.5,606.5 814.0,600.0 C815.5,593.5 816.8,589.0 819.2,580.8 C821.6,572.6 825.7,557.0 828.2,550.7 C830.7,544.4 831.9,545.2 834.2,543.2 C836.5,541.2 839.9,541.1 841.8,538.6 C843.7,536.1 843.8,532.1 845.5,528.1 C847.2,524.1 849.9,518.3 852.3,514.5 C854.7,510.7 857.0,509.0 859.8,505.5 C862.6,502.0 866.1,495.7 868.9,493.4 C871.7,491.1 873.6,491.9 876.4,491.9 C879.1,491.9 882.6,493.9 885.4,493.4 C888.2,492.9 890.7,490.4 893.0,488.9 C895.3,487.4 897.0,486.4 899.0,484.4 C901.0,482.4 902.8,478.9 905.0,476.9 C907.2,474.9 910.2,474.1 912.5,472.3 C914.8,470.5 916.1,465.8 918.6,466.3 C921.1,466.8 924.9,473.5 927.6,475.3 C930.4,477.1 932.6,478.1 935.1,476.9 C937.6,475.6 940.2,467.1 942.7,467.8 C945.2,468.6 948.2,480.9 950.2,481.4 C952.2,481.9 953.1,473.6 954.7,470.8 C956.3,468.0 957.4,465.6 959.9,464.5 C962.4,463.4 966.4,465.1 969.7,464.5 C973.0,463.9 976.3,459.8 979.6,460.8 C982.9,461.8 985.6,471.5 989.5,470.7 C993.4,469.9 999.1,455.1 1003.0,455.9 C1006.9,456.7 1009.4,473.8 1012.9,475.6 C1016.4,477.5 1020.5,466.0 1024.0,467.0 C1027.5,468.0 1029.5,481.2 1033.8,481.8 C1038.1,482.4 1045.8,471.3 1049.9,470.7 C1054.0,470.1 1054.4,479.3 1058.5,478.1 C1062.6,476.9 1069.6,463.9 1074.5,463.3 C1079.4,462.7 1084.2,474.4 1088.1,474.4 C1092.0,474.4 1094.5,461.4 1098.0,463.3 C1101.5,465.2 1104.4,486.7 1109.1,485.5 C1113.8,484.3 1121.4,457.5 1126.3,455.9 C1131.2,454.2 1134.8,475.6 1138.7,475.6 C1142.7,475.6 1147.3,458.3 1150.0,456.0 C1152.7,453.7 1152.9,461.2 1154.9,461.7 C1157.0,462.2 1160.0,460.6 1162.3,459.2 C1164.6,457.8 1166.0,453.2 1168.5,453.0 C1171.0,452.8 1174.0,455.9 1177.1,458.0 C1180.2,460.1 1184.1,465.4 1187.0,465.4 C1189.9,465.4 1191.9,459.2 1194.4,458.0 C1196.9,456.8 1199.1,456.6 1201.8,458.0 C1204.5,459.4 1207.3,466.8 1210.4,466.6 C1213.5,466.4 1217.0,461.4 1220.3,456.7 C1223.6,452.0 1226.8,440.9 1230.1,438.2 C1233.4,435.5 1236.9,441.5 1240.0,440.7 C1243.1,439.9 1246.1,435.4 1248.6,433.3 C1251.1,431.2 1252.7,428.0 1254.8,428.4 C1256.9,428.8 1258.3,435.8 1261.0,435.8 C1263.7,435.8 1267.7,430.0 1270.8,428.4 C1273.9,426.8 1276.6,427.5 1279.5,425.9 C1282.4,424.2 1285.4,418.9 1288.1,418.5 C1290.8,418.1 1293.0,420.5 1295.5,423.4 C1298.0,426.3 1300.6,435.8 1302.9,435.8 C1305.2,435.8 1306.6,426.9 1309.1,423.4 C1311.6,419.9 1314.8,417.3 1317.7,414.8 C1320.6,412.3 1323.6,408.6 1326.3,408.6 C1329.0,408.6 1331.4,412.3 1333.7,414.8 C1336.0,417.3 1337.8,421.1 1339.9,423.4 C1342.0,425.7 1344.4,428.8 1346.1,428.4 C1347.8,428.0 1348.1,421.9 1350.0,421.0 C1351.9,420.1 1354.9,421.8 1357.4,423.0 C1359.9,424.2 1362.8,429.0 1364.8,428.0 C1366.8,427.0 1367.7,417.9 1369.7,416.9 C1371.8,415.9 1374.6,422.0 1377.1,421.8 C1379.6,421.6 1381.6,414.8 1384.5,415.6 C1387.4,416.4 1391.8,426.3 1394.4,426.7 C1397.0,427.1 1398.2,421.9 1400.0,418.0 C1401.8,414.1 1403.5,404.5 1405.5,403.0 C1407.5,401.5 1409.9,407.2 1412.0,409.0 C1414.1,410.8 1415.9,414.0 1418.0,413.9 C1420.1,413.8 1421.8,408.5 1424.5,408.2 C1427.2,407.9 1430.9,409.6 1434.4,412.3 C1438.0,415.0 1442.7,424.0 1445.8,424.5 C1448.9,425.0 1450.9,418.1 1453.2,415.5 C1455.5,412.9 1457.5,408.2 1459.7,409.0 C1461.9,409.8 1464.0,420.6 1466.3,420.5 C1468.6,420.4 1471.5,410.2 1473.6,408.2 C1475.6,406.1 1476.7,409.4 1478.6,408.2 C1480.5,407.0 1482.5,401.4 1485.1,400.8 C1487.7,400.2 1491.9,404.3 1494.3,404.5 C1496.7,404.7 1497.2,401.7 1499.2,402.1 C1501.2,402.5 1504.8,408.0 1506.6,407.0 C1508.4,406.0 1507.6,397.5 1510.3,395.9 C1513.0,394.2 1519.5,397.5 1522.6,397.1 C1525.7,396.7 1526.5,393.0 1528.8,393.4 C1531.1,393.8 1533.5,400.4 1536.2,399.6 C1538.9,398.8 1542.5,390.7 1544.8,388.5 C1547.1,386.3 1548.5,386.6 1550.0,386.6 C1551.5,386.6 1552.9,389.4 1554.1,388.6 C1555.3,387.8 1555.7,381.1 1557.2,382.0 C1558.7,382.9 1561.3,393.7 1563.3,393.8 C1565.3,393.9 1567.4,384.2 1569.4,382.5 C1571.5,380.8 1573.4,383.1 1575.6,383.5 C1577.8,383.9 1580.2,384.9 1582.7,385.1 C1585.2,385.3 1588.7,383.7 1590.9,384.6 C1593.1,385.5 1594.3,388.5 1596.0,390.7 C1597.7,392.9 1599.0,396.0 1601.2,397.9 C1603.4,399.8 1606.8,401.6 1609.3,401.9 C1611.8,402.2 1614.5,400.8 1616.5,399.9 C1618.5,399.0 1620.4,396.6 1621.6,396.8 C1622.8,397.0 1622.8,401.6 1623.7,400.9 C1624.6,400.2 1625.4,393.5 1626.7,392.7 C1628.0,391.9 1630.1,395.8 1631.8,395.8 C1633.5,395.8 1635.5,392.7 1637.0,392.7 C1638.5,392.7 1639.1,396.8 1641.0,395.8 C1642.9,394.8 1646.5,387.1 1648.2,386.6 C1649.9,386.1 1649.8,392.4 1651.3,392.7 C1652.8,393.0 1654.7,390.1 1657.4,388.6 C1660.1,387.2 1665.0,383.6 1667.6,384.0 C1670.2,384.4 1671.1,389.4 1672.8,390.7 C1674.5,392.0 1676.5,390.8 1677.9,391.7 C1679.3,392.6 1678.8,395.1 1681.0,395.8 C1683.2,396.5 1689.0,395.2 1691.2,395.8 C1693.4,396.4 1692.8,399.9 1694.2,399.4 C1695.6,398.9 1697.9,394.0 1699.4,392.7 C1701.0,391.4 1702.2,390.8 1703.5,391.7 C1704.8,392.6 1705.3,397.6 1707.5,397.9 C1709.7,398.1 1713.7,393.2 1716.8,393.2 C1719.9,393.2 1723.1,396.4 1726.0,397.9 C1728.9,399.3 1731.9,402.1 1734.1,401.9 C1736.3,401.7 1737.0,397.6 1739.3,396.8 C1741.6,396.0 1745.5,396.3 1747.7,396.8 C1749.9,397.3 1750.6,400.3 1752.3,399.9 C1754.0,399.5 1756.0,394.5 1757.7,394.5 C1759.4,394.5 1760.1,399.1 1762.3,399.9 C1764.5,400.7 1767.9,399.0 1770.7,399.1 C1773.5,399.2 1776.3,400.8 1779.1,400.7 C1781.9,400.6 1784.9,398.7 1787.6,398.4 C1790.3,398.1 1792.6,399.5 1795.3,399.1 C1798.0,398.7 1801.5,395.5 1803.7,396.0 C1805.9,396.5 1806.5,402.2 1808.3,402.2 C1810.1,402.2 1812.6,396.4 1814.4,396.0 C1816.2,395.6 1817.3,399.4 1819.0,399.9 C1820.7,400.4 1822.7,399.5 1824.4,399.1 C1826.1,398.7 1827.7,397.8 1829.0,397.6 C1830.3,397.4 1831.8,400.9 1832.5,398.0 C1833.2,395.1 1833.0,383.8 1833.3,380.0 C1833.6,376.2 1834.0,375.8 1834.5,375.0 C1835.0,374.2 1835.8,373.3 1836.3,375.0 C1836.8,376.7 1837.1,381.3 1837.6,385.0 C1838.0,388.7 1838.5,394.0 1839.0,397.0 C1839.5,400.0 1839.1,401.9 1840.5,403.0 C1841.9,404.1 1845.6,402.8 1847.4,403.7 C1849.2,404.6 1849.4,407.5 1851.3,408.3 C1853.2,409.1 1856.6,408.7 1859.0,408.3 C1861.4,407.9 1863.7,405.7 1865.9,406.0 C1868.1,406.3 1870.2,409.1 1872.0,409.9 C1873.8,410.7 1875.8,410.5 1876.6,410.6" fill="none" stroke="#00f" stroke-width="6.5" stroke-linejoin="round" stroke-linecap="round"/>
<path d="M255.0,1224.0 C255.4,1223.3 256.4,1221.2 257.7,1220.1 C259.0,1219.0 260.7,1218.2 262.8,1217.6 C264.9,1217.0 267.5,1217.1 270.5,1216.5 C273.5,1215.9 278.1,1214.3 280.7,1214.0 C283.2,1213.7 283.9,1213.5 285.8,1214.5 C287.7,1215.5 289.8,1220.7 291.9,1220.1 C294.0,1219.5 296.2,1212.4 298.6,1210.9 C301.0,1209.4 304.2,1211.2 306.3,1210.9 C308.4,1210.6 308.8,1209.8 311.4,1208.9 C313.9,1208.1 318.2,1206.7 321.6,1205.8 C325.0,1204.9 328.4,1204.5 331.8,1203.8 C335.2,1203.1 339.9,1202.0 342.1,1201.7 C344.3,1201.4 342.8,1202.2 345.0,1201.7 C347.2,1201.2 351.8,1199.5 355.2,1198.6 C358.6,1197.7 362.1,1197.3 365.5,1196.5 C368.9,1195.7 371.9,1195.4 375.7,1194.0 C379.5,1192.6 385.5,1188.5 388.5,1187.9 C391.5,1187.3 390.6,1190.7 393.6,1190.4 C396.6,1190.1 402.6,1187.5 406.4,1186.3 C410.2,1185.1 412.8,1184.3 416.6,1183.2 C420.4,1182.1 426.2,1179.7 429.4,1179.7 C432.6,1179.7 434.3,1184.2 436.0,1183.2 C437.7,1182.2 437.9,1175.1 439.6,1174.0 C441.4,1172.9 443.8,1177.3 446.5,1176.6 C449.2,1175.9 451.6,1171.8 456.0,1170.0 C460.4,1168.2 467.2,1167.4 472.7,1166.0 C478.2,1164.6 483.5,1163.5 489.0,1161.8 C494.5,1160.1 500.0,1157.6 505.5,1156.0 C511.0,1154.4 516.4,1153.5 521.8,1152.0 C527.2,1150.5 532.5,1148.2 538.0,1147.0 C543.5,1145.8 549.1,1145.7 554.6,1144.6 C560.1,1143.5 565.5,1142.2 571.0,1140.6 C576.5,1139.0 581.8,1136.2 587.3,1134.8 C592.8,1133.4 598.2,1133.6 603.7,1132.4 C609.2,1131.2 614.5,1128.7 620.0,1127.5 C625.5,1126.3 631.4,1125.6 636.4,1125.0 C641.4,1124.4 646.2,1124.3 650.0,1123.9 C653.8,1123.5 656.1,1122.8 659.2,1122.4 C662.3,1122.0 665.9,1122.2 668.5,1121.3 C671.1,1120.4 672.7,1118.4 674.7,1117.3 C676.8,1116.2 678.8,1115.8 680.8,1114.6 C682.8,1113.4 684.9,1111.8 687.0,1110.2 C689.1,1108.6 691.2,1107.0 693.2,1105.0 C695.2,1103.0 697.2,1100.9 699.3,1098.2 C701.3,1095.5 703.4,1092.0 705.5,1089.0 C707.6,1086.0 710.1,1083.0 711.7,1080.0 C713.4,1077.0 714.2,1073.6 715.4,1070.8 C716.6,1068.0 717.6,1066.6 719.0,1063.0 C720.4,1059.4 722.5,1054.0 724.0,1049.0 C725.5,1044.0 726.3,1039.5 728.0,1033.0 C729.7,1026.5 732.0,1017.7 734.0,1010.0 C736.0,1002.3 738.1,994.4 739.8,986.6 C741.5,978.8 742.6,970.8 744.0,963.0 C745.4,955.2 746.8,947.2 748.0,940.0 C749.2,932.8 750.2,928.3 751.5,920.0 C752.8,911.7 754.6,900.0 756.0,890.0 C757.4,880.0 758.7,870.0 760.0,860.0 C761.3,850.0 762.7,840.0 764.0,830.0 C765.3,820.0 766.7,809.2 767.9,800.0 C769.1,790.8 770.0,783.7 771.0,775.0 C772.0,766.3 772.9,757.2 774.2,748.0 C775.5,738.8 777.0,732.3 779.0,720.0 C781.0,707.7 783.8,687.3 786.0,674.0 C788.2,660.7 790.6,649.0 792.4,640.0 C794.2,631.0 795.3,626.7 796.6,620.0 C797.9,613.3 798.9,606.5 800.1,600.0 C801.4,593.5 802.4,589.0 804.1,580.8 C805.8,572.6 807.6,559.5 810.1,550.7 C812.6,541.9 816.4,534.1 819.2,528.1 C822.0,522.1 824.5,518.3 826.7,514.5 C829.0,510.7 830.4,507.0 832.7,505.5 C835.0,504.0 838.0,507.0 840.3,505.5 C842.6,504.0 843.8,498.9 846.3,496.4 C848.8,493.9 852.5,491.9 855.3,490.4 C858.0,488.9 860.3,489.4 862.8,487.4 C865.3,485.4 868.4,479.6 870.4,478.4 C872.4,477.1 873.1,478.4 874.9,479.9 C876.6,481.4 879.1,485.6 880.9,487.4 C882.6,489.1 883.6,491.4 885.4,490.4 C887.2,489.4 889.7,482.4 891.5,481.4 C893.3,480.4 894.2,482.9 896.0,484.4 C897.8,485.9 899.8,489.9 902.0,490.4 C904.2,490.9 906.7,488.6 909.5,487.4 C912.3,486.1 915.8,482.4 918.6,482.9 C921.4,483.4 923.9,488.1 926.1,490.4 C928.4,492.6 929.6,496.1 932.1,496.4 C934.6,496.6 938.4,491.4 941.2,491.9 C944.0,492.4 946.2,499.2 948.7,499.5 C951.2,499.8 953.9,495.9 956.2,493.4 C958.5,490.9 959.6,484.4 962.3,484.3 C965.0,484.2 969.3,493.3 972.2,492.9 C975.1,492.5 977.1,481.2 979.6,481.8 C982.1,482.4 983.7,497.2 987.0,496.6 C990.3,496.0 995.0,478.3 999.3,478.1 C1003.6,477.9 1008.0,494.6 1012.9,495.4 C1017.8,496.2 1025.2,483.6 1028.9,483.0 C1032.6,482.4 1031.8,492.5 1035.1,491.7 C1038.4,490.9 1044.9,478.7 1048.6,478.1 C1052.3,477.5 1054.2,487.6 1057.3,488.0 C1060.4,488.4 1064.2,484.1 1067.1,480.6 C1070.0,477.1 1071.0,468.0 1074.5,467.0 C1078.0,466.0 1083.8,476.2 1088.1,474.4 C1092.4,472.5 1096.7,455.3 1100.4,455.9 C1104.1,456.5 1106.0,479.1 1110.3,478.1 C1114.6,477.1 1121.6,451.4 1126.3,449.7 C1131.0,448.0 1134.8,468.8 1138.7,468.2 C1142.7,467.6 1146.9,448.1 1150.0,446.0 C1153.1,443.9 1154.1,456.0 1157.4,455.5 C1160.7,455.0 1166.2,444.4 1169.7,443.2 C1173.2,442.0 1175.5,446.1 1178.4,448.1 C1181.3,450.2 1182.9,455.7 1187.0,455.5 C1191.1,455.3 1199.1,445.7 1203.0,446.9 C1206.9,448.1 1207.9,461.9 1210.4,462.9 C1212.9,463.9 1214.9,458.8 1217.8,453.0 C1220.7,447.2 1224.2,431.1 1227.7,428.4 C1231.2,425.7 1235.9,436.2 1238.8,437.0 C1241.7,437.8 1242.9,433.1 1244.9,433.3 C1247.0,433.5 1249.6,439.0 1251.1,438.2 C1252.5,437.4 1251.9,428.0 1253.6,428.4 C1255.2,428.8 1258.1,439.1 1261.0,440.7 C1263.9,442.3 1267.5,438.8 1270.8,438.2 C1274.1,437.6 1277.8,438.4 1280.7,437.0 C1283.6,435.6 1285.4,429.8 1288.1,429.6 C1290.8,429.4 1294.2,432.1 1296.7,435.8 C1299.2,439.5 1300.8,451.6 1302.9,451.8 C1305.0,452.0 1305.6,441.1 1309.1,437.0 C1312.6,432.9 1319.6,427.3 1323.9,427.1 C1328.2,426.9 1332.3,432.7 1335.0,435.8 C1337.7,438.9 1337.4,443.6 1339.9,445.6 C1342.4,447.6 1347.3,447.9 1350.0,448.0 C1352.7,448.1 1353.7,445.3 1356.2,446.5 C1358.7,447.7 1362.1,455.9 1364.8,455.1 C1367.5,454.3 1369.5,442.9 1372.2,441.5 C1374.9,440.1 1377.3,444.6 1380.8,446.5 C1384.3,448.4 1390.0,453.0 1393.2,452.6 C1396.4,452.2 1397.8,447.1 1400.0,444.2 C1402.2,441.3 1404.5,435.7 1406.6,435.3 C1408.6,434.9 1410.4,439.3 1412.3,441.7 C1414.2,444.1 1416.1,449.3 1418.0,449.9 C1419.9,450.4 1421.2,445.1 1423.7,445.0 C1426.2,444.9 1430.1,447.1 1432.7,449.1 C1435.3,451.2 1437.2,454.2 1439.3,457.3 C1441.3,460.4 1442.7,467.6 1445.0,467.9 C1447.3,468.2 1450.5,461.8 1453.2,458.9 C1455.9,456.0 1459.2,451.2 1461.4,450.7 C1463.6,450.1 1464.3,456.4 1466.3,455.6 C1468.3,454.8 1471.4,447.0 1473.6,445.8 C1475.8,444.6 1477.6,449.2 1479.4,448.3 C1481.2,447.4 1481.8,440.1 1484.3,440.1 C1486.8,440.1 1491.4,447.4 1494.1,448.3 C1496.8,449.2 1498.7,445.4 1500.7,445.8 C1502.8,446.2 1504.4,451.4 1506.4,450.7 C1508.4,450.0 1511.0,442.4 1512.9,441.7 C1514.8,441.0 1516.2,446.3 1517.8,446.6 C1519.4,446.9 1520.4,444.3 1522.7,443.4 C1525.0,442.4 1529.1,440.2 1531.8,440.9 C1534.5,441.6 1536.5,448.6 1539.1,447.5 C1541.7,446.4 1544.3,436.5 1547.3,434.4 C1550.3,432.3 1554.5,433.6 1557.2,434.7 C1559.9,435.8 1561.1,441.5 1563.3,440.8 C1565.5,440.1 1568.3,432.5 1570.5,430.6 C1572.7,428.7 1574.6,428.9 1576.6,429.6 C1578.6,430.3 1580.3,434.9 1582.7,434.7 C1585.1,434.5 1588.5,428.0 1590.9,428.5 C1593.3,429.0 1594.7,434.6 1597.1,437.7 C1599.5,440.8 1602.5,445.8 1605.2,447.0 C1607.9,448.2 1611.0,445.8 1613.4,444.9 C1615.8,444.0 1617.9,442.0 1619.6,441.8 C1621.3,441.6 1622.3,444.9 1623.7,443.9 C1625.1,442.9 1625.5,437.8 1627.7,435.7 C1629.9,433.6 1634.6,432.1 1637.0,431.6 C1639.4,431.1 1640.1,434.0 1642.1,432.6 C1644.1,431.2 1647.7,423.7 1649.2,423.4 C1650.7,423.1 1649.4,430.4 1651.3,430.6 C1653.2,430.8 1657.8,425.7 1660.5,424.5 C1663.2,423.3 1665.5,422.2 1667.6,423.4 C1669.6,424.6 1670.6,430.1 1672.8,431.6 C1675.0,433.1 1677.6,432.6 1681.0,432.6 C1684.4,432.6 1690.8,430.9 1693.2,431.6 C1695.6,432.3 1693.6,437.6 1695.3,436.7 C1697.0,435.8 1701.5,427.0 1703.5,426.5 C1705.5,426.0 1705.1,433.5 1707.5,433.7 C1709.9,433.9 1714.7,427.9 1717.8,427.5 C1720.9,427.1 1723.1,430.4 1726.0,431.6 C1728.9,432.8 1733.0,435.0 1735.2,434.7 C1737.4,434.4 1737.2,431.1 1739.3,429.6 C1741.4,428.2 1745.5,426.1 1747.7,426.0 C1749.9,425.9 1750.8,429.5 1752.3,429.0 C1753.8,428.5 1755.2,422.6 1756.9,422.9 C1758.6,423.2 1760.0,430.4 1762.3,430.6 C1764.6,430.9 1768.0,425.3 1770.7,424.4 C1773.4,423.5 1775.9,425.4 1778.4,425.2 C1781.0,424.9 1783.2,423.3 1786.0,422.9 C1788.8,422.5 1792.3,423.7 1795.3,422.9 C1798.2,422.1 1801.7,418.2 1803.7,418.3 C1805.7,418.4 1805.7,424.2 1807.5,423.7 C1809.3,423.2 1812.5,416.0 1814.4,415.2 C1816.3,414.4 1816.7,419.0 1819.0,419.1 C1821.3,419.2 1826.0,416.6 1828.3,416.0 C1830.5,415.4 1831.7,417.8 1832.5,415.5 C1833.3,413.2 1833.0,405.1 1833.3,402.0 C1833.6,398.9 1834.0,397.8 1834.5,397.0 C1835.0,396.2 1835.8,395.7 1836.3,397.0 C1836.8,398.3 1837.1,402.0 1837.6,405.0 C1838.0,408.0 1838.5,412.8 1839.0,415.2 C1839.5,417.6 1839.6,418.7 1840.5,419.1 C1841.4,419.5 1842.5,416.1 1844.4,417.5 C1846.3,418.9 1850.2,427.1 1852.0,427.5 C1853.8,427.9 1853.8,420.9 1855.1,419.8 C1856.4,418.7 1857.8,421.1 1859.7,420.6 C1861.6,420.1 1864.8,416.3 1866.6,416.8 C1868.4,417.3 1869.0,423.4 1870.5,423.7 C1872.0,423.9 1874.9,419.2 1875.8,418.3" fill="none" stroke="#f0f" stroke-width="6.5" stroke-linejoin="round" stroke-linecap="round"/>
</g>
<g font-family="'Liberation Sans', Arial, sans-serif" fill="#000" stroke="#000" stroke-width="0.6">
<text transform="translate(215.8,1261.0) scale(0.946,1.0)" text-anchor="end" font-size="53">0.0</text>
<text transform="translate(215.8,1117.4) scale(0.946,1.0)" text-anchor="end" font-size="53">0.1</text>
<text transform="translate(215.8,973.9) scale(0.946,1.0)" text-anchor="end" font-size="53">0.2</text>
<text transform="translate(215.8,830.3) scale(0.946,1.0)" text-anchor="end" font-size="53">0.3</text>
<text transform="translate(215.8,686.8) scale(0.946,1.0)" text-anchor="end" font-size="53">0.4</text>
<text transform="translate(215.8,543.2) scale(0.946,1.0)" text-anchor="end" font-size="53">0.5</text>
<text transform="translate(215.8,399.6) scale(0.946,1.0)" text-anchor="end" font-size="53">0.6</text>
<text transform="translate(215.8,256.1) scale(0.946,1.0)" text-anchor="end" font-size="53">0.7</text>
<text transform="translate(215.8,112.5) scale(0.946,1.0)" text-anchor="end" font-size="53">0.8</text>
<text transform="translate(255.0,1327) scale(0.965,1.0)" text-anchor="middle" font-size="53">600</text>
<text transform="translate(579.2,1327) scale(0.965,1.0)" text-anchor="middle" font-size="53">700</text>
<text transform="translate(903.4,1327) scale(0.965,1.0)" text-anchor="middle" font-size="53">800</text>
<text transform="translate(1227.6,1327) scale(0.965,1.0)" text-anchor="middle" font-size="53">900</text>
<text transform="translate(1551.8,1327) scale(0.965,1.0)" text-anchor="middle" font-size="53">1000</text>
<text transform="translate(1876.0,1327) scale(0.965,1.0)" text-anchor="middle" font-size="53">1100</text>
<text transform="translate(1058.2,1425) scale(0.99,1.025)" text-anchor="middle" font-size="63">Wavelength (nm)</text>
<text transform="translate(72,614.8) rotate(-90) scale(1.008,1)" text-anchor="middle" font-size="63">Transmittance</text>
<text transform="translate(533.5,141.8) scale(0.95,1.01)" font-size="84">0%</text>
<text transform="translate(533.5,243.3) scale(0.95,1.01)" font-size="84">5%</text>
<text transform="translate(533.5,344.3) scale(0.95,1.01)" font-size="84">10%</text>
<text transform="translate(533.5,446.3) scale(0.95,1.01)" font-size="84">15%</text>
</g>
</svg>
</body></html>
